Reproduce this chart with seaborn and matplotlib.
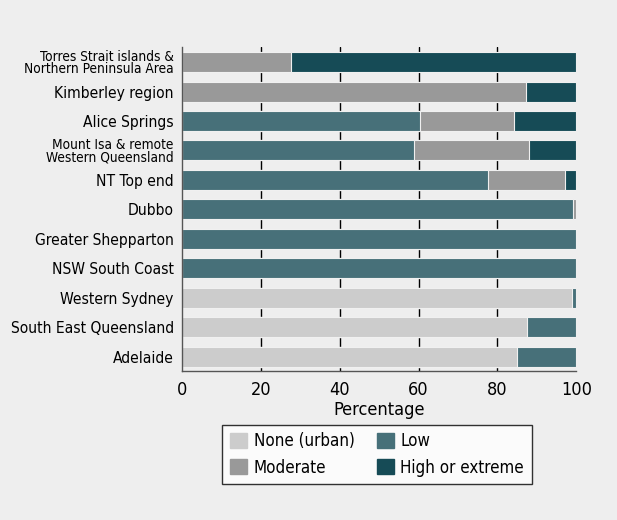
import numpy as np
import pandas as pd
import matplotlib.pyplot as plt
import seaborn as sns
from matplotlib.patches import Patch
from matplotlib.ticker import FixedLocator

regions = ["Torres Strait islands &\nNorthern Peninsula Area", "Kimberley region", "Alice Springs",
           "Mount Isa & remote\nWestern Queensland", "NT Top end", "Dubbo", "Greater Shepparton",
           "NSW South Coast", "Western Sydney", "South East Queensland", "Adelaide"]
none_urban = [0, 0, 0, 0, 0, 0, 0, 0, 98.9, 87.5, 85.0]
low = [0, 0, 60.3, 58.8, 77.5, 99.2, 100, 100, 1.1, 12.5, 15.0]
moderate = [27.6, 87.3, 23.9, 29.1, 19.6, 0.8, 0, 0, 0, 0, 0]
high = [72.4, 12.7, 15.8, 12.1, 2.9, 0, 0, 0, 0, 0, 0]

categories = ["None (urban)", "Moderate", "Low", "High or extreme"]
colors = {"None (urban)": "#cccccc", "Moderate": "#999999", "Low": "#477079", "High or extreme": "#164b56"}

df = pd.DataFrame({"region": regions, "None (urban)": none_urban, "Low": low,
                   "Moderate": moderate, "High or extreme": high})
# stacking order left to right: none, low, moderate, high
stack = ["None (urban)", "Low", "Moderate", "High or extreme"]
cum = df[stack].cumsum(axis=1)

sns.set_style("white")
plt.rcParams['font.family'] = ['DejaVu Sans']
plt.rcParams['font.stretch'] = 'condensed'
plt.rcParams['text.color'] = 'black'
plt.rcParams['xtick.color'] = 'black'
plt.rcParams['ytick.color'] = 'black'
plt.rcParams['axes.labelcolor'] = 'black'

fig = plt.figure(figsize=(6.17, 5.2), dpi=100, facecolor="#eeeeee")
ax = fig.add_axes([0.295, 0.2856, 0.639, 0.6234])
ax.set_facecolor("#eeeeee")

# draw widest layer first so the narrower ones sit on top
for name in stack[::-1]:
    sns.barplot(x=cum[name], y=df["region"], orient="h", color=colors[name], saturation=1,
                width=0.68, edgecolor="#f0f0f0", linewidth=0.8, ax=ax)

ax.set_xlim(0, 100)
ax.set_ylim(10.5, -0.5)
ax.set_xticks([0, 20, 40, 60, 80, 100])
ax.set_axisbelow(True)
ax.xaxis.grid(True, color="black", linewidth=1)
for gl in ax.get_xgridlines()[::5]:
    gl.set_visible(False)

for s in ["top", "right"]:
    ax.spines[s].set_visible(False)
for s in ["left", "bottom"]:
    ax.spines[s].set_color("#555555")
    ax.spines[s].set_linewidth(1)

ax.tick_params(axis="x", direction="out", length=5, width=1, color="black", labelsize=13, pad=2)
ax.tick_params(axis="y", which="major", length=0, pad=6)
ax.yaxis.set_minor_locator(FixedLocator(np.arange(-0.5, 11, 1)))
ax.tick_params(axis="y", which="minor", length=5, width=1, color="#555555", direction="out")

for lab in ax.get_yticklabels():
    if "\n" in lab.get_text():
        lab.set_fontsize(9.8)
        lab.set_linespacing(0.85)
    else:
        lab.set_fontsize(11.2)

ax.set_xlabel("Percentage", fontsize=13, labelpad=1)
ax.set_ylabel("")

handles = [Patch(facecolor=colors[c], edgecolor=colors[c]) for c in categories]
leg = fig.legend(handles, categories, loc="center", bbox_to_anchor=(0.611, 0.126), ncol=2,
                 fontsize=12.2, frameon=True, fancybox=False, edgecolor="black", facecolor="white",
                 handlelength=1.0, handleheight=1.0, handletextpad=0.4, columnspacing=1.3,
                 labelspacing=0.5, borderpad=0.45)
leg.get_frame().set_linewidth(1)

fig.savefig("out.png", dpi=100, facecolor=fig.get_facecolor())
